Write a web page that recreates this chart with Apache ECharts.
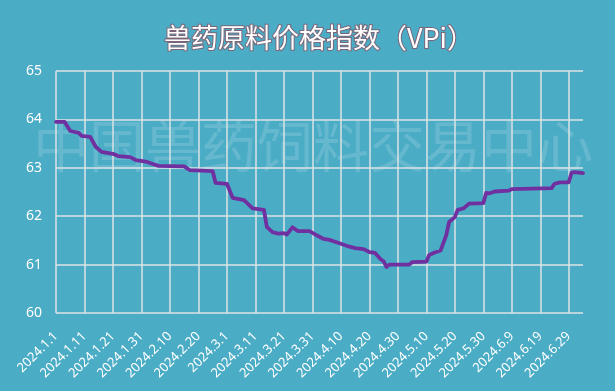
<!DOCTYPE html>
<html>
<head>
<meta charset="utf-8">
<script src="https://cdn.jsdelivr.net/npm/echarts@6/dist/echarts.min.js"></script>
<style>html,body{margin:0;padding:0;background:#4bacc6;}#c{width:615px;height:391px;}</style>
</head>
<body>
<div id="c"></div>
<script>
var title = '兽药原料价格指数（VPi）';
var watermark = '中国兽药饲料交易中心';
var startDate = '2024-01-01';
var endDate = '2024-07-04';
var tickLabels = ['2024.1.1','2024.1.11','2024.1.21','2024.1.31','2024.2.10','2024.2.20','2024.3.1','2024.3.11','2024.3.21','2024.3.31','2024.4.10','2024.4.20','2024.4.30','2024.5.10','2024.5.20','2024.5.30','2024.6.9','2024.6.19','2024.6.29'];
var dates = ['2024-01-01','2024-01-04','2024-01-06','2024-01-09','2024-01-10','2024-01-13','2024-01-15','2024-01-17','2024-01-21','2024-01-23','2024-01-27','2024-01-29','2024-02-02','2024-02-04','2024-02-06','2024-02-15','2024-02-17','2024-02-25','2024-02-26','2024-03-01','2024-03-03','2024-03-07','2024-03-10','2024-03-14','2024-03-15','2024-03-17','2024-03-19','2024-03-21','2024-03-22','2024-03-24','2024-03-26','2024-03-30','2024-04-02','2024-04-04','2024-04-06','2024-04-09','2024-04-10','2024-04-13','2024-04-15','2024-04-18','2024-04-20','2024-04-22','2024-04-24','2024-04-25','2024-04-26','2024-04-27','2024-05-04','2024-05-05','2024-05-10','2024-05-11','2024-05-13','2024-05-15','2024-05-17','2024-05-18','2024-05-20','2024-05-21','2024-05-23','2024-05-25','2024-05-30','2024-05-31','2024-06-01','2024-06-03','2024-06-08','2024-06-09','2024-06-23','2024-06-24','2024-06-26','2024-06-29','2024-06-30','2024-07-01','2024-07-04'];
var values = [63.95,63.95,63.76,63.72,63.66,63.64,63.43,63.33,63.29,63.24,63.22,63.16,63.12,63.08,63.04,63.03,62.95,62.93,62.69,62.67,62.38,62.33,62.16,62.13,61.78,61.67,61.64,61.65,61.62,61.77,61.69,61.69,61.59,61.53,61.51,61.45,61.43,61.37,61.34,61.32,61.26,61.24,61.11,61.07,60.95,61.00,61.00,61.05,61.06,61.20,61.25,61.29,61.61,61.88,61.98,62.13,62.16,62.26,62.27,62.48,62.47,62.51,62.53,62.56,62.58,62.67,62.70,62.70,62.90,62.91,62.89];

function dayIndex(s){
  var p = s.split('-'), q = startDate.split('-');
  return Math.round((Date.UTC(+p[0], +p[1]-1, +p[2]) - Date.UTC(+q[0], +q[1]-1, +q[2])) / 86400000);
}
var seriesData = dates.map(function(d, i){ return [dayIndex(d), values[i]]; });
var maxDay = dayIndex(endDate);

var chart = echarts.init(document.getElementById('c'));
chart.setOption({
  backgroundColor: '#4bacc6',
  animation: false,
  title: {
    text: title, left: 159, top: 19,
    textStyle: { color: '#ffffff', fontSize: 27, fontWeight: 'normal', fontFamily: 'Noto Sans CJK SC',
      textBorderColor: '#7a6678', textBorderWidth: 2 }
  },
  graphic: [{
    type: 'text', left: 33, top: 118, z: 0, silent: true,
    style: { text: watermark, fill: 'rgba(255,255,255,0.15)', fontSize: 56, fontFamily: 'Noto Sans CJK SC', letterSpacing: 1 }
  }],
  grid: { left: 56, right: 32, top: 71, bottom: 78 },
  xAxis: {
    type: 'value', min: 0, max: maxDay, interval: 10,
    axisLine: { show: false }, axisTick: { show: false },
    splitLine: { show: true, showMinLine: true, showMaxLine: false, lineStyle: { color: '#dde3e6', width: 1.5 } },
    axisLabel: {
      color: '#ffffff', fontSize: 13, fontFamily: 'Noto Sans', rotate: 45, margin: 21, showMaxLabel: false,
      formatter: function(v){ return (v % 10 === 0 && tickLabels[v/10]) ? tickLabels[v/10] : ''; }
    }
  },
  yAxis: {
    type: 'value', min: 60, max: 65, interval: 1,
    axisLine: { show: false }, axisTick: { show: false },
    splitLine: { show: true, lineStyle: { color: '#dde3e6', width: 1.5 } },
    axisLabel: { color: '#ffffff', fontSize: 14, fontFamily: 'Noto Sans', margin: 14 }
  },
  series: [{
    type: 'line', data: seriesData, showSymbol: false, symbol: 'none',
    lineStyle: { color: '#7030a0', width: 3.8, cap: 'round', join: 'round' }
  }]
});
</script>
</body>
</html>
